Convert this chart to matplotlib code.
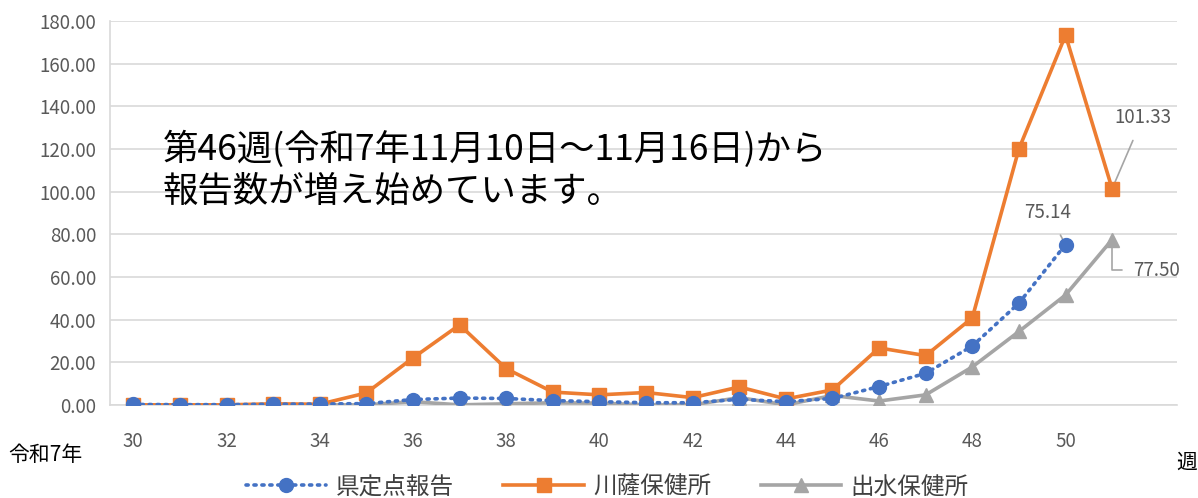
import numpy as np
import matplotlib
matplotlib.use("Agg")
from matplotlib import pyplot as plt

plt.rcParams['font.family'] = ['Noto Sans CJK JP', 'DejaVu Sans']

weeks = list(range(30, 52))
kenteiten = [0.2, 0.1, 0.1, 0.3, 0.4, 0.6, 2.5, 3.2, 3.0, 2.0, 1.5, 1.0, 1.0, 2.6, 1.5, 3.0,
             8.6, 14.8, 27.6, 47.7, 75.14, None]
sensatsu = [0.0, 0.0, 0.0, 0.5, 0.3, 5.6, 22.0, 37.5, 17.0, 6.0, 4.7, 5.8, 3.4, 8.4, 2.8, 7.0,
            26.7, 23.1, 40.8, 120.0, 173.3, 101.33]
izumi = [0.0, 0.0, 0.0, 0.0, 0.0, 0.0, 1.5, 0.0, 0.5, 1.0, 0.8, 0.0, 0.0, 3.4, 0.0, 4.4,
         1.8, 4.7, 17.8, 34.4, 51.5, 77.50]
xticks = list(range(30, 51, 2))
yticks = list(range(0, 181, 20))

blue = '#4472C4'
orange = '#ED7D31'
gray = '#A5A5A5'
txt = '#595959'

fig = plt.figure(figsize=(11.98, 4.98), dpi=100)
ax = fig.add_axes([0.0918, 0.187, 0.891, 0.771])

kx = [w for w, v in zip(weeks, kenteiten) if v is not None]
ky = [v for v in kenteiten if v is not None]
ax.plot(kx, ky, color=blue, linestyle=(0, (0.6, 1.6)), linewidth=2.6, dash_capstyle='round',
        marker='o', markersize=10, label='県定点報告', zorder=5)
ax.plot(weeks, sensatsu, color=orange, linewidth=2.6, marker='s', markersize=10,
        label='川薩保健所', zorder=4)
ax.plot(weeks, izumi, color=gray, linewidth=2.6, marker='^', markersize=10,
        label='出水保健所', zorder=3)

ax.set_xlim(29.5, 52.4)
ax.set_ylim(0, 180)
ax.set_yticks(yticks)
ax.set_yticklabels([f'{v:.2f}' for v in yticks], color=txt, fontsize=13.5)
ax.set_xticks(xticks)
ax.set_xticklabels([str(v) for v in xticks], color=txt, fontsize=13.5)
ax.tick_params(axis='both', length=0)
ax.tick_params(axis='x', pad=19)
ax.tick_params(axis='y', pad=10)
ax.grid(axis='y', color='#D9D9D9', linewidth=1.2)
ax.set_axisbelow(True)
for s in ['top', 'right']:
    ax.spines[s].set_visible(False)
ax.spines['left'].set_color('#D9D9D9')
ax.spines['bottom'].set_color('#D9D9D9')
ax.spines['left'].set_linewidth(1.2)
ax.spines['bottom'].set_linewidth(1.2)

# data labels
ax.annotate('101.33', xy=(51, sensatsu[-1]), xytext=(1143 / 1198, 1 - 117 / 498),
            textcoords='figure fraction', ha='center', va='center', fontsize=13.5, color=txt,
            arrowprops=dict(arrowstyle='-', color=gray, lw=1.2, shrinkA=8, shrinkB=0))
ax.annotate('75.14', xy=(50, kenteiten[-2]), xytext=(1048 / 1198, 1 - 212 / 498),
            textcoords='figure fraction', ha='center', va='center', fontsize=13.5, color=txt,
            arrowprops=dict(arrowstyle='-', color=gray, lw=1.2, shrinkA=8, shrinkB=4))
ax.annotate('77.50', xy=(51, izumi[-1]), xytext=(1133 / 1198, 1 - 270 / 498),
            textcoords='figure fraction', ha='left', va='center', fontsize=13.5, color=txt,
            arrowprops=dict(arrowstyle='-', color=gray, lw=1.2, shrinkA=6, shrinkB=6,
                            connectionstyle='angle,angleA=0,angleB=90,rad=0'))

fig.text(163 / 1198, 1 - 170 / 498, '第46週(令和7年11月10日～11月16日)から\n報告数が増え始めています。',
         fontsize=25.5, color='black', ha='left', va='center', linespacing=1.2)

fig.text(8 / 1198, 1 - 455 / 498, '令和7年', fontsize=15, color='black', ha='left', va='center')
fig.text(1176 / 1198, 1 - 463 / 498, '週', fontsize=15, color='black', ha='left', va='center')

fig.legend(loc='center', bbox_to_anchor=(0.507, 1 - 487 / 498), ncol=3, frameon=False,
           fontsize=17, handlelength=3.4, handletextpad=0.4, columnspacing=2.1, labelcolor='#404040')

fig.savefig('out.png', dpi=100)
